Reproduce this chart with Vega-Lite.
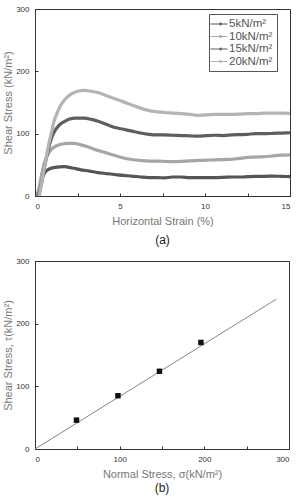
{
  "$schema": "https://vega.github.io/schema/vega-lite/v6.json",
  "background": "white",
  "padding": {"left": 2, "top": 4, "right": 5, "bottom": 0},
  "spacing": 9,
  "config": {
    "font": "Liberation Sans",
    "view": {"stroke": "#333", "strokeWidth": 1},
    "axis": {
      "grid": false,
      "domainColor": "#333",
      "tickColor": "#333",
      "tickSize": -3,
      "labelPadding": 9,
      "labelFontSize": 8,
      "labelColor": "#333",
      "titleFontSize": 11,
      "titleFontWeight": "normal",
      "titleColor": "#777",
      "titlePadding": 5
    },
    "axisY": {"titlePadding": 2},
    "title": {"fontSize": 12, "fontWeight": "normal", "color": "#222", "orient": "bottom", "offset": 6}
  },
  "datasets": {
    "curves": [
      {"strain": 0.1, "stress": 0, "load": "5kN/m²"},
      {"strain": 0.25, "stress": 12, "load": "5kN/m²"},
      {"strain": 0.4, "stress": 27, "load": "5kN/m²"},
      {"strain": 0.55, "stress": 36, "load": "5kN/m²"},
      {"strain": 0.7, "stress": 41, "load": "5kN/m²"},
      {"strain": 0.9, "stress": 44, "load": "5kN/m²"},
      {"strain": 1.2, "stress": 46, "load": "5kN/m²"},
      {"strain": 1.7, "stress": 47, "load": "5kN/m²"},
      {"strain": 2.2, "stress": 45, "load": "5kN/m²"},
      {"strain": 2.7, "stress": 42, "load": "5kN/m²"},
      {"strain": 3.2, "stress": 40, "load": "5kN/m²"},
      {"strain": 3.7, "stress": 37.5, "load": "5kN/m²"},
      {"strain": 4.2, "stress": 36, "load": "5kN/m²"},
      {"strain": 4.7, "stress": 34.5, "load": "5kN/m²"},
      {"strain": 5.2, "stress": 33, "load": "5kN/m²"},
      {"strain": 5.7, "stress": 32, "load": "5kN/m²"},
      {"strain": 6.2, "stress": 30.5, "load": "5kN/m²"},
      {"strain": 6.7, "stress": 29.5, "load": "5kN/m²"},
      {"strain": 7.2, "stress": 29.5, "load": "5kN/m²"},
      {"strain": 7.6, "stress": 29, "load": "5kN/m²"},
      {"strain": 8.1, "stress": 30.5, "load": "5kN/m²"},
      {"strain": 8.6, "stress": 30.5, "load": "5kN/m²"},
      {"strain": 9.1, "stress": 29.5, "load": "5kN/m²"},
      {"strain": 9.6, "stress": 29.5, "load": "5kN/m²"},
      {"strain": 10.1, "stress": 29.5, "load": "5kN/m²"},
      {"strain": 10.6, "stress": 29.5, "load": "5kN/m²"},
      {"strain": 11.1, "stress": 30, "load": "5kN/m²"},
      {"strain": 11.6, "stress": 30.5, "load": "5kN/m²"},
      {"strain": 12.1, "stress": 30.5, "load": "5kN/m²"},
      {"strain": 12.5, "stress": 31, "load": "5kN/m²"},
      {"strain": 13, "stress": 31.5, "load": "5kN/m²"},
      {"strain": 13.5, "stress": 31.5, "load": "5kN/m²"},
      {"strain": 14, "stress": 32, "load": "5kN/m²"},
      {"strain": 14.5, "stress": 31.5, "load": "5kN/m²"},
      {"strain": 15, "stress": 31, "load": "5kN/m²"},

      {"strain": 0.15, "stress": 0, "load": "10kN/m²"},
      {"strain": 0.3, "stress": 22, "load": "10kN/m²"},
      {"strain": 0.45, "stress": 42, "load": "10kN/m²"},
      {"strain": 0.6, "stress": 57, "load": "10kN/m²"},
      {"strain": 0.75, "stress": 66, "load": "10kN/m²"},
      {"strain": 0.9, "stress": 73, "load": "10kN/m²"},
      {"strain": 1.1, "stress": 78, "load": "10kN/m²"},
      {"strain": 1.3, "stress": 81, "load": "10kN/m²"},
      {"strain": 1.6, "stress": 83.5, "load": "10kN/m²"},
      {"strain": 1.9, "stress": 84.5, "load": "10kN/m²"},
      {"strain": 2.3, "stress": 84.5, "load": "10kN/m²"},
      {"strain": 2.7, "stress": 82, "load": "10kN/m²"},
      {"strain": 3.1, "stress": 79, "load": "10kN/m²"},
      {"strain": 3.6, "stress": 74, "load": "10kN/m²"},
      {"strain": 4.1, "stress": 70, "load": "10kN/m²"},
      {"strain": 4.7, "stress": 65, "load": "10kN/m²"},
      {"strain": 5.2, "stress": 61, "load": "10kN/m²"},
      {"strain": 5.7, "stress": 58.5, "load": "10kN/m²"},
      {"strain": 6.2, "stress": 57, "load": "10kN/m²"},
      {"strain": 6.7, "stress": 56, "load": "10kN/m²"},
      {"strain": 7.2, "stress": 56, "load": "10kN/m²"},
      {"strain": 7.6, "stress": 55.5, "load": "10kN/m²"},
      {"strain": 8.1, "stress": 55, "load": "10kN/m²"},
      {"strain": 8.6, "stress": 55.5, "load": "10kN/m²"},
      {"strain": 9.1, "stress": 56.5, "load": "10kN/m²"},
      {"strain": 9.6, "stress": 57, "load": "10kN/m²"},
      {"strain": 10.1, "stress": 57.5, "load": "10kN/m²"},
      {"strain": 10.6, "stress": 58, "load": "10kN/m²"},
      {"strain": 11.1, "stress": 58.5, "load": "10kN/m²"},
      {"strain": 11.6, "stress": 59, "load": "10kN/m²"},
      {"strain": 12.1, "stress": 60.5, "load": "10kN/m²"},
      {"strain": 12.5, "stress": 62, "load": "10kN/m²"},
      {"strain": 13, "stress": 62.5, "load": "10kN/m²"},
      {"strain": 13.5, "stress": 63, "load": "10kN/m²"},
      {"strain": 14, "stress": 64.5, "load": "10kN/m²"},
      {"strain": 14.5, "stress": 65.5, "load": "10kN/m²"},
      {"strain": 15, "stress": 66, "load": "10kN/m²"},

      {"strain": 0.2, "stress": 0, "load": "15kN/m²"},
      {"strain": 0.4, "stress": 22, "load": "15kN/m²"},
      {"strain": 0.55, "stress": 45, "load": "15kN/m²"},
      {"strain": 0.7, "stress": 65, "load": "15kN/m²"},
      {"strain": 0.85, "stress": 82, "load": "15kN/m²"},
      {"strain": 1.0, "stress": 95, "load": "15kN/m²"},
      {"strain": 1.2, "stress": 106, "load": "15kN/m²"},
      {"strain": 1.4, "stress": 113, "load": "15kN/m²"},
      {"strain": 1.7, "stress": 119, "load": "15kN/m²"},
      {"strain": 2.0, "stress": 123, "load": "15kN/m²"},
      {"strain": 2.4, "stress": 125, "load": "15kN/m²"},
      {"strain": 2.9, "stress": 125, "load": "15kN/m²"},
      {"strain": 3.3, "stress": 123, "load": "15kN/m²"},
      {"strain": 3.7, "stress": 120, "load": "15kN/m²"},
      {"strain": 4.2, "stress": 115, "load": "15kN/m²"},
      {"strain": 4.7, "stress": 110, "load": "15kN/m²"},
      {"strain": 5.2, "stress": 107, "load": "15kN/m²"},
      {"strain": 5.7, "stress": 104, "load": "15kN/m²"},
      {"strain": 6.2, "stress": 101, "load": "15kN/m²"},
      {"strain": 6.7, "stress": 99, "load": "15kN/m²"},
      {"strain": 7.2, "stress": 98, "load": "15kN/m²"},
      {"strain": 7.6, "stress": 98, "load": "15kN/m²"},
      {"strain": 8.1, "stress": 97.5, "load": "15kN/m²"},
      {"strain": 8.6, "stress": 97, "load": "15kN/m²"},
      {"strain": 9.1, "stress": 96.5, "load": "15kN/m²"},
      {"strain": 9.6, "stress": 96, "load": "15kN/m²"},
      {"strain": 10.1, "stress": 97, "load": "15kN/m²"},
      {"strain": 10.6, "stress": 97.5, "load": "15kN/m²"},
      {"strain": 11.1, "stress": 97, "load": "15kN/m²"},
      {"strain": 11.6, "stress": 98, "load": "15kN/m²"},
      {"strain": 12.1, "stress": 98.5, "load": "15kN/m²"},
      {"strain": 12.5, "stress": 99, "load": "15kN/m²"},
      {"strain": 13, "stress": 100, "load": "15kN/m²"},
      {"strain": 13.5, "stress": 100, "load": "15kN/m²"},
      {"strain": 14, "stress": 100.5, "load": "15kN/m²"},
      {"strain": 14.5, "stress": 101, "load": "15kN/m²"},
      {"strain": 15, "stress": 101.5, "load": "15kN/m²"},

      {"strain": 0.25, "stress": 0, "load": "20kN/m²"},
      {"strain": 0.45, "stress": 30, "load": "20kN/m²"},
      {"strain": 0.65, "stress": 60, "load": "20kN/m²"},
      {"strain": 0.8, "stress": 82, "load": "20kN/m²"},
      {"strain": 0.95, "stress": 100, "load": "20kN/m²"},
      {"strain": 1.1, "stress": 118, "load": "20kN/m²"},
      {"strain": 1.3, "stress": 133, "load": "20kN/m²"},
      {"strain": 1.5, "stress": 145, "load": "20kN/m²"},
      {"strain": 1.8, "stress": 156, "load": "20kN/m²"},
      {"strain": 2.1, "stress": 163, "load": "20kN/m²"},
      {"strain": 2.5, "stress": 168, "load": "20kN/m²"},
      {"strain": 2.9, "stress": 169.5, "load": "20kN/m²"},
      {"strain": 3.3, "stress": 168, "load": "20kN/m²"},
      {"strain": 3.7, "stress": 166, "load": "20kN/m²"},
      {"strain": 4.2, "stress": 161, "load": "20kN/m²"},
      {"strain": 4.7, "stress": 156, "load": "20kN/m²"},
      {"strain": 5.2, "stress": 151, "load": "20kN/m²"},
      {"strain": 5.7, "stress": 146, "load": "20kN/m²"},
      {"strain": 6.2, "stress": 141, "load": "20kN/m²"},
      {"strain": 6.7, "stress": 137, "load": "20kN/m²"},
      {"strain": 7.2, "stress": 135, "load": "20kN/m²"},
      {"strain": 7.6, "stress": 134, "load": "20kN/m²"},
      {"strain": 8.1, "stress": 133, "load": "20kN/m²"},
      {"strain": 8.6, "stress": 132, "load": "20kN/m²"},
      {"strain": 9.1, "stress": 131, "load": "20kN/m²"},
      {"strain": 9.6, "stress": 129.5, "load": "20kN/m²"},
      {"strain": 10.1, "stress": 130, "load": "20kN/m²"},
      {"strain": 10.6, "stress": 131, "load": "20kN/m²"},
      {"strain": 11.1, "stress": 131, "load": "20kN/m²"},
      {"strain": 11.6, "stress": 131, "load": "20kN/m²"},
      {"strain": 12.1, "stress": 131.5, "load": "20kN/m²"},
      {"strain": 12.5, "stress": 132, "load": "20kN/m²"},
      {"strain": 13, "stress": 132, "load": "20kN/m²"},
      {"strain": 13.5, "stress": 133, "load": "20kN/m²"},
      {"strain": 14, "stress": 133, "load": "20kN/m²"},
      {"strain": 14.5, "stress": 133, "load": "20kN/m²"},
      {"strain": 15, "stress": 132.5, "load": "20kN/m²"}
    ],
    "peaks": [
      {"normal": 49, "shear": 46},
      {"normal": 98, "shear": 85},
      {"normal": 147, "shear": 124},
      {"normal": 196, "shear": 170}
    ],
    "envelope": [
      {"normal": 0, "shear": 0},
      {"normal": 285, "shear": 239.1}
    ]
  },
  "vconcat": [
    {
      "width": 255,
      "height": 187,
      "title": {"text": "(a)", "offset": 9},
      "layer": [
        {
          "data": {"name": "curves"},
          "mark": {"type": "line", "strokeWidth": 3.2, "interpolate": "monotone"},
          "encoding": {
            "x": {
              "field": "strain", "type": "quantitative",
              "scale": {"domain": [0, 15], "nice": false},
              "axis": {
                "title": "Horizontal Strain (%)",
                "values": [0, 2.5, 5, 7.5, 10, 12.5, 15],
                "labelExpr": "datum.value % 5 == 0 ? datum.label : ''"
              }
            },
            "y": {
              "field": "stress", "type": "quantitative",
              "scale": {"domain": [0, 300], "nice": false},
              "axis": {
                "title": "Shear Stress (kN/m²)",
                "values": [0, 50, 100, 150, 200, 250, 300],
                "labelExpr": "datum.value % 100 == 0 ? datum.label : ''"
              }
            },
            "color": {
              "field": "load", "type": "nominal",
              "scale": {
                "domain": ["5kN/m²", "10kN/m²", "15kN/m²", "20kN/m²"],
                "range": ["#555555", "#a6a6a6", "#5e5e5e", "#b4b4b4"]
              },
              "legend": {
                "title": null,
                "orient": "none",
                "legendX": 174,
                "legendY": 5,
                "strokeColor": "#555",
                "fillColor": "white",
                "padding": 4,
                "rowPadding": 0.5,
                "labelFontSize": 11.5,
                "labelColor": "#555",
                "labelOffset": 4,
                "symbolType": "M-1.7,0H1.7M0.5,0A0.18,0.18 0 1,0 0.14,0A0.18,0.18 0 1,0 0.5,0",
                "symbolSize": 100,
                "symbolStrokeWidth": 1.1,
                "symbolFillColor": "white"
              }
            }
          }
        },
        {
          "mark": {"type": "text", "align": "left", "baseline": "middle", "fontSize": 10, "color": "#555"},
          "encoding": {
            "x": {"datum": 0.25},
            "y": {"datum": 285},
            "text": {"value": "River Sand 100%"}
          }
        }
      ]
    },
    {
      "width": 254,
      "height": 188,
      "title": {"text": "(b)", "offset": 4},
      "layer": [
        {
          "data": {"name": "envelope"},
          "mark": {"type": "line", "color": "#777", "strokeWidth": 0.9},
          "encoding": {
            "x": {
              "field": "normal", "type": "quantitative",
              "scale": {"domain": [0, 300], "nice": false},
              "axis": {
                "title": "Normal Stress, σ(kN/m²)",
                "values": [0, 50, 100, 150, 200, 250, 300],
                "labelExpr": "datum.value % 100 == 0 ? datum.label : ''"
              }
            },
            "y": {
              "field": "shear", "type": "quantitative",
              "scale": {"domain": [0, 300], "nice": false},
              "axis": {
                "title": "Shear Stress, τ(kN/m²)",
                "values": [0, 50, 100, 150, 200, 250, 300],
                "labelExpr": "datum.value % 100 == 0 ? datum.label : ''"
              }
            }
          }
        },
        {
          "data": {"name": "peaks"},
          "mark": {"type": "square", "color": "#111", "opacity": 1, "size": 30},
          "encoding": {
            "x": {"field": "normal", "type": "quantitative"},
            "y": {"field": "shear", "type": "quantitative"}
          }
        },
        {
          "mark": {"type": "text", "align": "left", "baseline": "middle", "fontSize": 10, "color": "#555"},
          "encoding": {
            "x": {"datum": 10.6},
            "y": {"datum": 281},
            "text": {"value": "River Sand 100%"}
          }
        },
        {
          "mark": {"type": "text", "align": "left", "baseline": "middle", "fontSize": 10, "color": "#555"},
          "encoding": {
            "x": {"datum": 53},
            "y": {"datum": 183.5},
            "text": {"value": "Shear Strength"}
          }
        },
        {
          "mark": {"type": "text", "align": "left", "baseline": "middle", "fontSize": 8, "color": "#555"},
          "encoding": {
            "x": {"datum": 51.6},
            "y": {"datum": 158},
            "text": {"value": "τ"}
          }
        },
        {
          "mark": {"type": "text", "align": "left", "baseline": "middle", "fontSize": 6, "color": "#555", "dy": 3},
          "encoding": {
            "x": {"datum": 56},
            "y": {"datum": 158},
            "text": {"value": "f"}
          }
        },
        {
          "mark": {"type": "text", "align": "left", "baseline": "middle", "fontSize": 10, "color": "#555"},
          "encoding": {
            "x": {"datum": 59.9},
            "y": {"datum": 158},
            "text": {"value": "= 0+ σ tan40°"}
          }
        }
      ]
    }
  ]
}
